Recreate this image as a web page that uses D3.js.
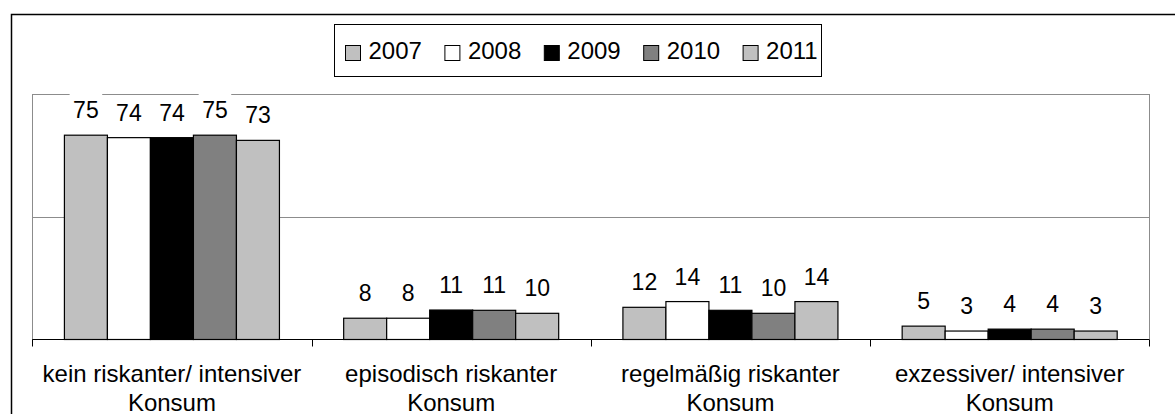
<!DOCTYPE html>
<html>
<head>
<meta charset="utf-8">
<script src="https://cdn.jsdelivr.net/npm/d3@7"></script>
<style>
  html, body { margin: 0; padding: 0; background: #fff; }
  svg { display: block; font-family: Arial, "Liberation Sans", sans-serif; }
</style>
</head>
<body>
<svg id="chart"></svg>
<script>
/* ------------ DATA --------------------------------------------------- */
const categories = [
  ['kein riskanter/ intensiver', 'Konsum'],
  ['episodisch riskanter', 'Konsum'],
  ['regelmäßig riskanter', 'Konsum'],
  ['exzessiver/ intensiver', 'Konsum']
];
const years = ['2007', '2008', '2009', '2010', '2011'];
const s2007 = [74.9, 7.8, 11.8, 4.9];
const s2008 = [74.0, 7.8, 13.9, 3.1];
const s2009 = [74.0, 10.8, 10.7, 3.8];
const s2010 = [74.9, 10.7, 9.6, 3.8];
const s2011 = [73.0, 9.6, 13.9, 3.1];
const yTicks = [0, 45, 90];
const colors = ['#c0c0c0', '#ffffff', '#000000', '#808080', '#c0c0c0'];

const series = [s2007, s2008, s2009, s2010, s2011];

/* ------------ LAYOUT ------------------------------------------------- */
const W = 1175, H = 414;
const plot = { left: 32.3, right: 1149.3, top: 94, bottom: 339.5 };
const FONT = 24;

const svg = d3.select('#chart').attr('width', W).attr('height', H);

// outer chart frame (runs past right & bottom edge)
svg.append('rect')
  .attr('x', 11.5).attr('y', 14.5)
  .attr('width', 1300).attr('height', 600)
  .attr('fill', '#fff').attr('stroke', '#000').attr('stroke-width', 1.5);

/* ------------ SCALES ------------------------------------------------- */
const x0 = d3.scaleBand()
  .domain(d3.range(categories.length))
  .range([plot.left, plot.right])
  .padding(0);

const gap = x0.bandwidth() * 0.23;
const x1 = d3.scaleBand()
  .domain(years)
  .range([gap / 2, x0.bandwidth() - gap / 2])
  .padding(0);

const y = d3.scaleLinear()
  .domain([yTicks[0], yTicks[yTicks.length - 1]])
  .range([plot.bottom, plot.top]);

/* ------------ GRID & PLOT FRAME -------------------------------------- */
const grid = svg.append('g');
grid.selectAll('line.h')
  .data(yTicks.slice(1))
  .join('line')
  .attr('x1', plot.left).attr('x2', plot.right)
  .attr('y1', d => Math.round(y(d)) + 0.5).attr('y2', d => Math.round(y(d)) + 0.5)
  .attr('stroke', '#8c8c8c').attr('stroke-width', 1);

grid.selectAll('line.v')
  .data([plot.left, plot.right])
  .join('line')
  .attr('x1', d => Math.round(d) + 0.5).attr('x2', d => Math.round(d) + 0.5)
  .attr('y1', plot.top).attr('y2', plot.bottom)
  .attr('stroke', '#8c8c8c').attr('stroke-width', 1);

/* ------------ BARS --------------------------------------------------- */
const barLayer = svg.append('g');
const labelLayer = svg.append('g');

const flat = [];
series.forEach((s, i) => s.forEach((v, c) => flat.push({ year: years[i], i, c, v })));

barLayer.selectAll('rect')
  .data(flat)
  .join('rect')
  .attr('x', d => x0(d.c) + x1(d.year))
  .attr('y', d => y(d.v))
  .attr('width', x1.bandwidth())
  .attr('height', d => y(0) - y(d.v))
  .attr('fill', d => colors[d.i])
  .attr('stroke', '#000')
  .attr('stroke-width', 1.2);

/* ------------ AXIS --------------------------------------------------- */
const xAxis = svg.append('g')
  .attr('transform', `translate(0,${plot.bottom})`);

xAxis.append('line')
  .attr('x1', plot.left).attr('x2', plot.right)
  .attr('y1', 0).attr('y2', 0)
  .attr('stroke', '#000').attr('stroke-width', 1.2);

const tickPos = d3.range(categories.length + 1).map(i => plot.left + i * x0.bandwidth());
xAxis.selectAll('line.tick')
  .data(tickPos)
  .join('line')
  .attr('class', 'tick')
  .attr('x1', d => Math.round(d) + 0.5).attr('x2', d => Math.round(d) + 0.5)
  .attr('y1', 0).attr('y2', 7)
  .attr('stroke', '#000').attr('stroke-width', 1);

const catText = svg.append('g').selectAll('text')
  .data(categories)
  .join('text')
  .attr('x', (d, i) => x0(i) + x0.bandwidth() / 2)
  .attr('y', 382)
  .attr('text-anchor', 'middle')
  .attr('font-size', FONT)
  .attr('fill', '#000');

catText.selectAll('tspan')
  .data(d => d)
  .join('tspan')
  .attr('x', function () { return this.parentNode.getAttribute('x'); })
  .attr('dy', (d, i) => i === 0 ? 0 : 29)
  .text(d => d);

/* ------------ DATA LABELS ------------------------------------------- */
const fmt = d3.format('.0f');
const lbl = labelLayer.selectAll('g')
  .data(flat)
  .join('g');

lbl.append('text')
  .attr('x', d => x0(d.c) + x1(d.year) + x1.bandwidth() / 2)
  .attr('y', d => y(d.v) - 17)
  .attr('text-anchor', 'middle')
  .attr('font-size', FONT - 1)
  .attr('fill', '#000')
  .text(d => fmt(d.v));

lbl.each(function () {
  const g = d3.select(this);
  const t = g.select('text');
  const b = t.node().getBBox();
  g.insert('rect', 'text')
    .attr('x', b.x - 3.5).attr('y', +t.attr('y') - 25)
    .attr('width', b.width + 7).attr('height', 29)
    .attr('fill', '#fff');
});

/* ------------ LEGEND ------------------------------------------------- */
const legend = svg.append('g');
legend.append('rect')
  .attr('x', 334.5).attr('y', 24.5)
  .attr('width', 487).attr('height', 52)
  .attr('fill', '#fff').attr('stroke', '#000').attr('stroke-width', 1);

const item = legend.selectAll('g.item')
  .data(years)
  .join('g')
  .attr('class', 'item')
  .attr('transform', (d, i) => `translate(${345.5 + i * 99.4},0)`);

item.append('rect')
  .attr('x', 0).attr('y', 45.5)
  .attr('width', 15).attr('height', 15)
  .attr('fill', (d, i) => colors[i])
  .attr('stroke', '#000').attr('stroke-width', 1);

item.append('text')
  .attr('x', 23).attr('y', 58.5)
  .attr('font-size', FONT)
  .attr('fill', '#000')
  .text(d => d);
</script>
</body>
</html>
